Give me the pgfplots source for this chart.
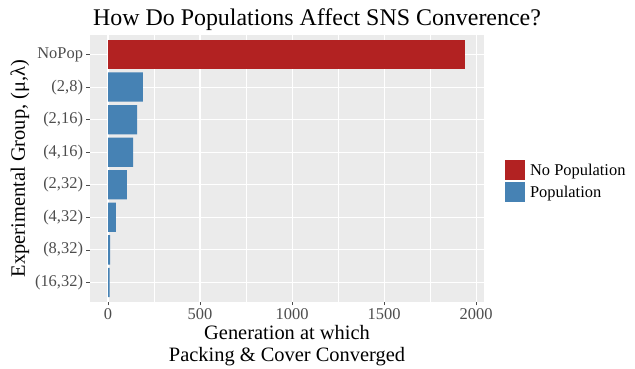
\documentclass[border=0pt]{standalone}
\usepackage{pgfplots}
\pgfplotsset{compat=1.18}
\usepackage{fontspec}
\setmainfont{Liberation Serif}
\definecolor{ggbg}{RGB}{235,235,235}
\definecolor{ggred}{RGB}{178,34,34}
\definecolor{ggblue}{RGB}{70,130,180}
\definecolor{ggtick}{RGB}{77,77,77}
\begin{document}
\begin{tikzpicture}
\useasboundingbox (0,0) rectangle (635bp,369bp);
\begin{axis}[
  at={(90bp,67bp)}, anchor=south west,
  scale only axis, width=394bp, height=267bp,
  xbar, bar width=0.9, bar shift=0pt,
  xmin=-98, xmax=2043, ymin=-0.6, ymax=7.6,
  xtick={0,500,1000,1500,2000},
  minor xtick={250,750,1250,1750},
  ytick={0,...,7},
  yticklabels={(16{,}32),(8{,}32),(4{,}32),(2{,}32),(4{,}16),(2{,}16),(2{,}8),NoPop},
  /pgf/number format/assume math mode=true,
  /pgf/number format/set thousands separator={},
  scaled x ticks=false,
  xticklabel style={font=\fontsize{16.5}{17}\selectfont, text=ggtick},
  yticklabel style={font=\fontsize{16.5}{17}\selectfont, text=ggtick},
  axis background/.style={fill=ggbg},
  axis line style={draw=none},
  grid=both,
  major grid style={white, line width=1.1bp},
  minor grid style={white, line width=0.55bp},
  tick align=outside,
  major tick length=3.5bp, minor tick length=0pt,
  tick style={ggtick, line width=0.5bp},
  xtick pos=bottom, ytick pos=left,
  xlabel={Generation at which\\Packing \& Cover Converged},
  xlabel style={font=\fontsize{20.5}{22}\selectfont, align=center, yshift=2bp},
  ylabel={Experimental Group, (μ,λ)},
  ylabel style={font=\fontsize{20.5}{22}\selectfont, yshift=-1bp},
  title={How Do Populations Affect SNS Converence?},
  title style={font=\fontsize{24}{26}\selectfont, yshift=-5bp, xshift=30bp},
  legend style={draw=none, fill=none, at={(1.053,0.453)}, anchor=west,
    font=\fontsize{16.5}{17}\selectfont, row sep=2bp, inner sep=0pt,
    nodes={inner xsep=5bp}},
  legend cell align=left,
  legend image code/.code={\fill[#1] (0bp,-10bp) rectangle (20bp,10bp);},
]
\addplot[fill=ggred, draw=none] coordinates {(1940,7)};
\addlegendentry{No Population}
\addplot[fill=ggblue, draw=none] coordinates {(190,6) (158,5) (136,4) (103,3) (43,2) (11,1) (9,0)};
\addlegendentry{Population}
\end{axis}
\end{tikzpicture}
\end{document}
